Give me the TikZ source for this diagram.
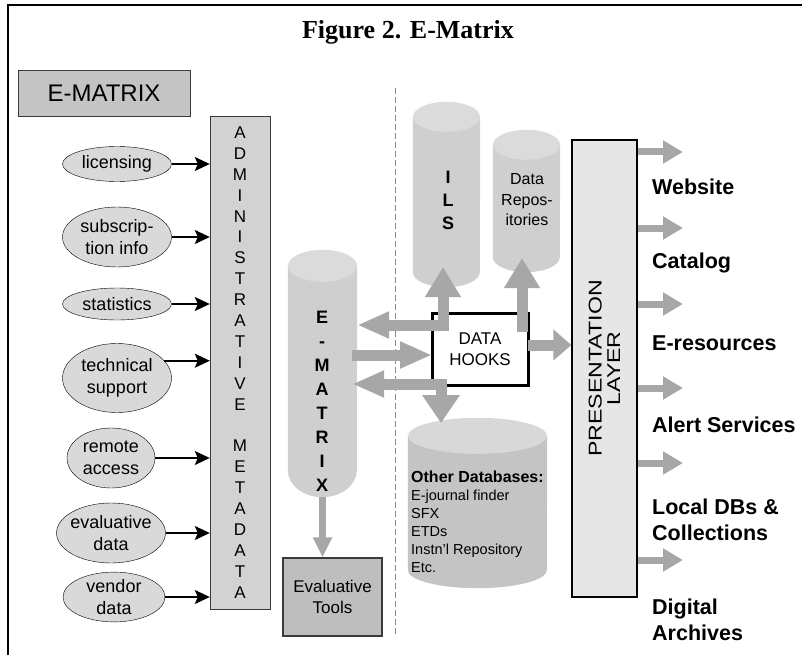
\documentclass[tikz,border=0pt]{standalone}
\usepackage{fontspec}
\setmainfont{Liberation Serif}
\setsansfont{Liberation Sans}
\usetikzlibrary{arrows.meta,shapes.geometric,positioning}

\definecolor{ovalgray}{HTML}{D9D9D9}
\definecolor{tagfill}{HTML}{C4C4C4}
\definecolor{admfill}{HTML}{D2D2D2}
\definecolor{evalfill}{HTML}{BEBEBE}
\definecolor{plfill}{HTML}{E6E6E6}
\definecolor{pipegray}{HTML}{A7A7A9}
\definecolor{drumbody}{HTML}{CFCFCF}
\definecolor{drumlid}{HTML}{DBDBDB}
\definecolor{odbbody}{HTML}{C4C4C4}
\definecolor{odblid}{HTML}{D8D8D8}
\definecolor{boxedge}{HTML}{3A3A3A}
\definecolor{dashgray}{HTML}{8A8A8A}

\tikzset{
  oval/.style={
    shape = ellipse,
    draw,
    fill = ovalgray,
    inner sep = 0pt,
    align = center,
    font = \sffamily\fontsize{18}{22}\selectfont
  },
  feed/.style={
    line width = 1.6pt,
    -{Stealth[length=15pt,width=14pt,inset=3pt]}
  },
  slab/.style={
    shape = rectangle,
    draw = boxedge,
    inner sep = 0pt,
    align = center
  },
  drum/.style={
    shape = rectangle,
    inner sep = 0pt
  },
  pipe/.style={
    draw = pipegray,
    line width = 11pt
  },
  spout/.style={
    draw = pipegray,
    line width = 7pt,
    -{Triangle[length=20pt,width=22pt]}
  },
  outlabel/.style={
    anchor = west,
    align = left,
    inner sep = 0pt,
    font = \sffamily\bfseries\fontsize{21.5}{26}\selectfont
  },
  cut/.style={
    draw = dashgray,
    line width = 1pt,
    dash pattern = on 6pt off 3pt
  }
}

\begin{document}
\begin{tikzpicture}[x=1pt,y=-1pt]
    \useasboundingbox (0,0) rectangle (802,655);
    \draw[line width=1.5pt] (8,655) -- (8,5) -- (802,5);
    \node[font=\bfseries\fontsize{26}{30}\selectfont] (title) at (408,32) {Figure 2. E-Matrix};
    \node[slab, fill=tagfill, minimum width=172pt, minimum height=46pt, font=\sffamily\fontsize{24}{28}\selectfont] (tag) at (104,93) {E-MATRIX};
    \draw[cut] (395,88) -- (395,637);

    % metadata sources
    \node[oval, minimum width=109pt, minimum height=35pt] (lic) at (117,164) {licensing};
    \node[oval, minimum width=109pt, minimum height=60pt] (sub) at (117,237) {subscrip-\\tion info};
    \node[oval, minimum width=109pt, minimum height=32pt] (stat) at (117,304) {statistics};
    \node[oval, minimum width=109pt, minimum height=69pt] (tech) at (117,378) {technical\\support};
    \node[oval, minimum width=88pt, minimum height=60pt] (remote) at (111,458) {remote\\access};
    \node[oval, minimum width=108pt, minimum height=60pt, inner sep=-2pt] (evald) at (111,533) {evaluative\\data};
    \node[oval, minimum width=102pt, minimum height=47pt] (vendor) at (114,597) {vendor\\data};

    \node[slab, fill=admfill, minimum width=60pt, minimum height=493pt, font=\sffamily\fontsize{17}{20.9}\selectfont] (adm) at (240,362.5)
        {A\\D\\M\\I\\N\\I\\S\\T\\R\\A\\T\\I\\V\\E\\[20.9pt]M\\E\\T\\A\\D\\A\\T\\A};

    \draw[feed] (lic.east) -- (adm.west |- lic.east);
    \draw[feed] (sub.east) -- (adm.west |- sub.east);
    \draw[feed] (stat.east) -- (adm.west |- stat.east);
    \draw[feed] (tech.20) -- (adm.west |- tech.20);
    \draw[feed] (remote.east) -- (adm.west |- remote.east);
    \draw[feed] (evald.east) -- (adm.west |- evald.east);
    \draw[feed] (vendor.east) -- (adm.west |- vendor.east);

    % cylinders
    \node[drum, minimum width=69pt, minimum height=247pt] (emx) at (322.5,373.5) {};
    \fill[drumbody] ([yshift=-16pt]emx.north west) -- ([yshift=27pt]emx.south west)
        arc[start angle=180, end angle=360, x radius=34.5pt, y radius=27pt] -- ([yshift=-16pt]emx.north east) -- cycle;
    \fill[drumlid] ([yshift=-16pt]emx.north) ellipse[x radius=34.5pt, y radius=16pt];
    \node[align=center, font=\sffamily\bfseries\fontsize{18}{24}\selectfont] (emxtxt) at (322,401) {E\\-\\M\\A\\T\\R\\I\\X};

    \node[drum, minimum width=67pt, minimum height=185pt] (ils) at (446.5,194.5) {};
    \fill[drumbody] ([yshift=-15pt]ils.north west) -- ([yshift=15pt]ils.south west)
        arc[start angle=180, end angle=360, x radius=33.5pt, y radius=15pt] -- ([yshift=-15pt]ils.north east) -- cycle;
    \fill[drumlid] ([yshift=-15pt]ils.north) ellipse[x radius=33.5pt, y radius=15pt];
    \node[align=center, font=\sffamily\bfseries\fontsize{18}{23}\selectfont] (ilstxt) at (448,200) {I\\L\\S};

    \node[drum, minimum width=67pt, minimum height=142pt] (repo) at (526.5,201) {};
    \fill[drumbody] ([yshift=-15pt]repo.north west) -- ([yshift=15pt]repo.south west)
        arc[start angle=180, end angle=360, x radius=33.5pt, y radius=15pt] -- ([yshift=-15pt]repo.north east) -- cycle;
    \fill[drumlid] ([yshift=-15pt]repo.north) ellipse[x radius=33.5pt, y radius=15pt];
    \node[align=center, font=\sffamily\fontsize{16}{20.5}\selectfont] (repotxt) at (527,200) {Data\\Repos-\\itories};

    \node[drum, minimum width=139pt, minimum height=170pt] (odb) at (477.5,503) {};
    \fill[odbbody] ([yshift=-18pt]odb.north west) -- ([yshift=18pt]odb.south west)
        arc[start angle=180, end angle=360, x radius=69.5pt, y radius=18pt] -- ([yshift=-18pt]odb.north east) -- cycle;
    \fill[odblid] ([yshift=-18pt]odb.north) ellipse[x radius=69.5pt, y radius=18pt];
    \node[anchor=west, align=left, inner sep=0pt, font=\sffamily\fontsize{14.5}{18}\selectfont] (odbtxt) at (411,522)
        {{\bfseries\fontsize{16}{18}\selectfont Other Databases:}\\E-journal finder\\SFX\\ETDs\\Instn'l Repository\\Etc.};

    % boxes
    \node[slab, fill=evalfill, line width=1.2pt, minimum width=99pt, minimum height=78pt, font=\sffamily\fontsize{17}{21}\selectfont] (ev) at (332.5,597) {Evaluative\\Tools};
    \node[slab, draw=black, fill=white, line width=3pt, minimum width=96pt, minimum height=72pt, font=\sffamily\fontsize{17}{21}\selectfont] (dh) at (480,349) {DATA\\HOOKS};
    \node[slab, draw=black, fill=plfill, line width=1.3pt, minimum width=65pt, minimum height=457pt] (pl) at (604.5,368.5) {};
    \node[rotate=90, xscale=1.25, align=center, font=\sffamily\fontsize{18.5}{18.5}\selectfont] (pltxt) at (604.5,368.5) {PRESENTATION\\LAYER};

    % gray flows
    \coordinate (hkup) at (443,325);
    \coordinate (ilsin) at (443,267);
    \coordinate (hkmid) at (432,355);
    \coordinate (hklo) at (441,384);
    \coordinate (odbin) at (441,423);
    \coordinate (repoout) at (522,332);
    \coordinate (repoin) at (522,258);
    \coordinate (dhout) at (528,345);
    \draw[pipe, {Triangle[length=32pt,width=25pt]}-{Triangle[length=30pt,width=34pt]}] (emx.east |- hkup) -- (hkup) -- (ilsin);
    \draw[pipe, -{Triangle[length=32pt,width=25pt]}] ([xshift=-5pt]emx.east |- hkmid) -- (hkmid);
    \draw[pipe, {Triangle[length=32pt,width=25pt]}-{Triangle[length=28pt,width=36pt]}] ([xshift=-5pt]emx.east |- hklo) -- (hklo) -- (odbin);
    \draw[pipe, -{Triangle[length=30pt,width=34pt]}] (repoout) -- (repoin);
    \draw[pipe, -{Triangle[length=18pt,width=30pt]}] (dhout) -- (pl.west |- dhout);
    \draw[spout, -{Triangle[length=20pt,width=18pt]}] (emx.south) -- (emx.south |- ev.north);

    \foreach \y [count=\k] in {152,228,304,388,463,560} {
        \coordinate (out\k) at (683,\y);
        \draw[spout] (pl.east |- out\k) -- (out\k);
    }

    \node[outlabel] (web) at (652,187) {Website};
    \node[outlabel] (cat) at (652,263) {Catalog};
    \node[outlabel] (eres) at (652,343) {E-resources};
    \node[outlabel] (alert) at (652,425) {Alert Services};
    \node[outlabel] (local) at (652,520) {Local DBs \&\\Collections};
    \node[outlabel] (arch) at (652,620) {Digital\\Archives};
\end{tikzpicture}
\end{document}
